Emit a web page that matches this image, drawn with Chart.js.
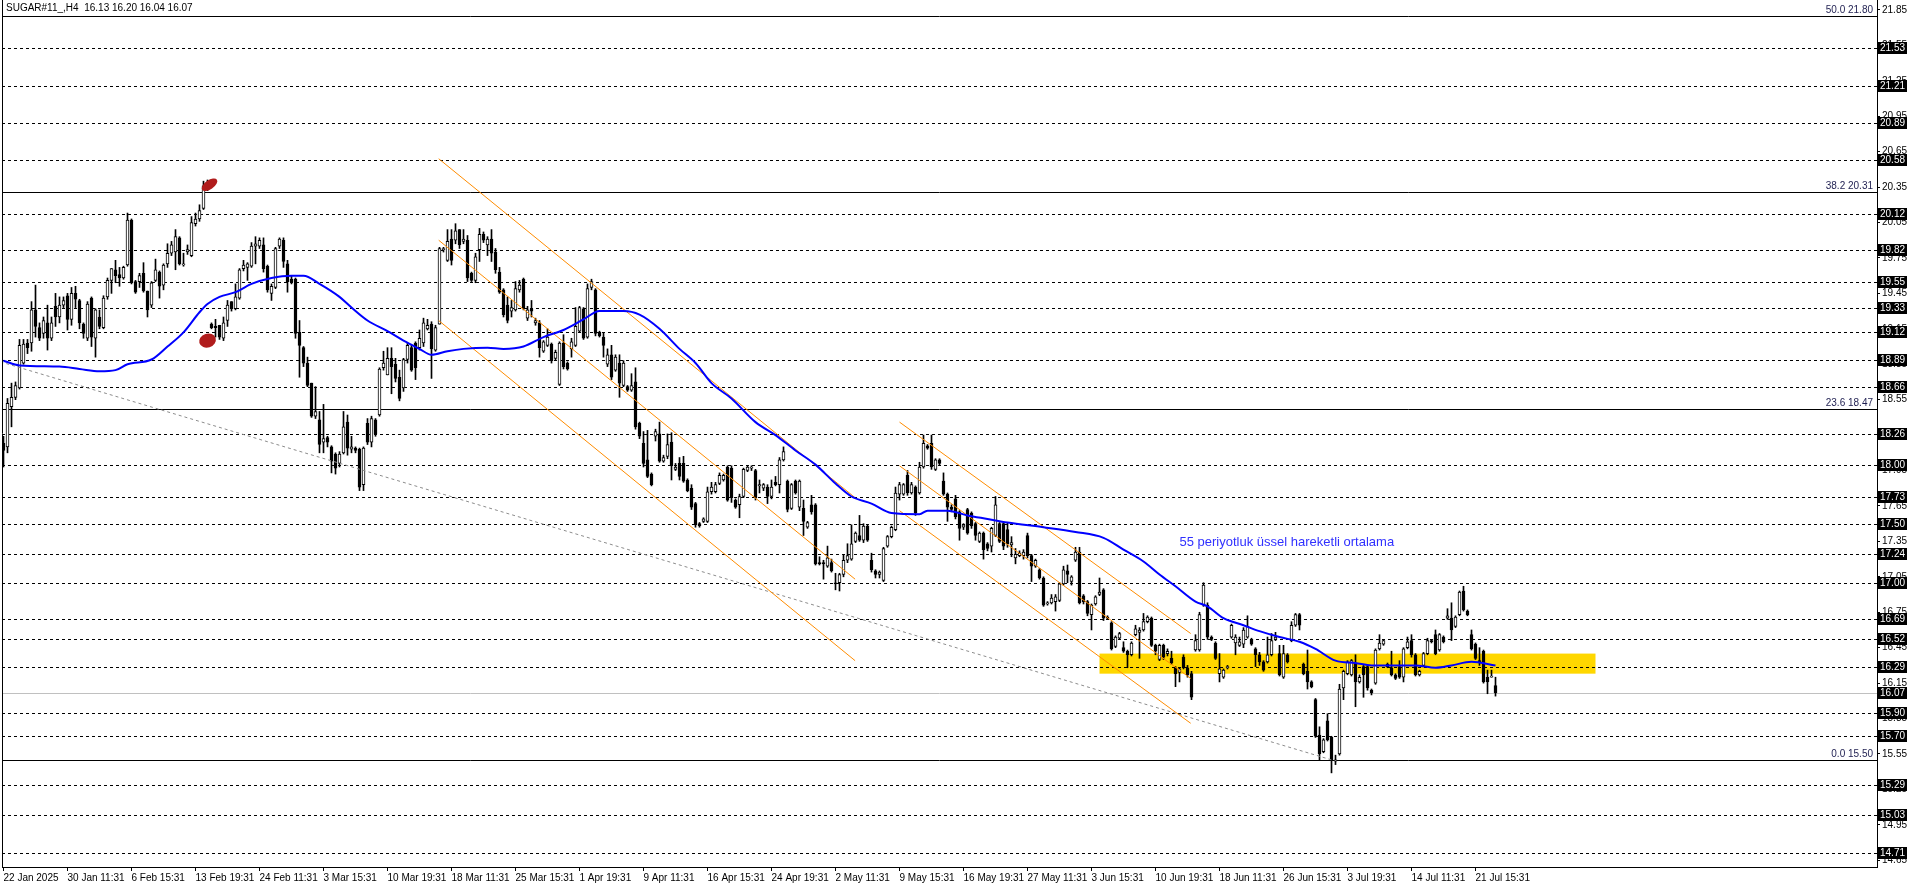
<!DOCTYPE html>
<html>
<head>
<meta charset="utf-8">
<script src="https://cdn.jsdelivr.net/npm/chart.js@4.4.1/dist/chart.umd.min.js"></script>
<style>
  html, body { margin: 0; padding: 0; background: #fff; overflow: hidden; }
  #wrap { position: relative; width: 1916px; height: 888px; }
</style>
</head>
<body>
<div id="wrap"><canvas id="chart" width="1916" height="888"></canvas></div>
<script>
// SUGAR#11 H4 candles (index 0 = 22 Jan 2025)
const title = 'SUGAR#11_,H4  16.13 16.20 16.04 16.07';

const opens = [
  18.18,18.15,18.49,18.57,18.65,18.86,19.03,19.03,19.31,19.16,
  19.11,19.20,19.07,19.34,19.25,19.35,19.43,19.23,19.45,19.39,
  19.19,19.07,19.41,19.07,19.25,19.16,19.42,19.56,19.65,19.61,
  19.58,19.69,20.07,19.55,19.55,19.62,19.47,19.35,19.56,19.63,
  19.52,19.70,19.79,19.80,19.92,19.69,19.80,19.77,20.04,20.08,
  20.17,20.39,19.19,19.17,19.18,19.07,19.22,19.38,19.32,19.41,
  19.66,19.67,19.68,19.85,19.85,19.86,19.68,19.45,19.50,19.85,
  19.90,19.70,19.57,19.57,19.12,18.99,18.86,18.69,18.41,18.38,
  18.19,18.23,18.15,18.09,18.01,18.10,18.36,18.13,18.14,18.13,
  17.83,18.35,18.19,18.38,18.42,18.82,18.76,18.90,18.85,18.74,
  18.65,18.89,18.99,19.03,18.99,19.03,19.15,19.19,18.97,19.19,
  19.82,19.73,19.91,19.90,19.99,19.89,19.90,19.62,19.56,19.82,
  19.95,19.86,19.91,19.80,19.63,19.48,19.35,19.30,19.31,19.48,
  19.57,19.24,19.32,19.20,19.20,18.96,19.01,19.02,18.90,18.68,
  19.03,18.86,18.98,19.01,19.13,19.32,19.08,19.50,19.48,19.12,
  19.08,18.85,18.93,18.80,18.86,18.67,18.66,18.63,18.70,18.35,
  18.18,18.04,17.92,18.24,18.26,18.03,18.07,18.19,17.96,18.01,
  18.01,17.87,17.80,17.67,17.50,17.52,17.52,17.77,17.77,17.84,
  17.87,17.98,17.97,17.70,17.66,17.73,17.95,17.97,17.95,17.82,
  17.80,17.81,17.73,17.85,17.83,18.04,17.86,17.63,17.86,17.64,
  17.63,17.47,17.66,17.66,17.17,17.17,17.14,17.17,17.00,17.00,
  17.07,17.19,17.20,17.35,17.40,17.36,17.48,17.19,17.10,17.07,
  17.02,17.31,17.39,17.45,17.75,17.75,17.91,17.76,17.81,17.76,
  17.98,18.16,18.18,17.96,18.04,17.86,17.75,17.64,17.71,17.60,
  17.47,17.62,17.59,17.50,17.35,17.42,17.33,17.31,17.40,17.50,
  17.50,17.45,17.32,17.21,17.23,17.23,17.40,17.23,17.14,17.11,
  17.04,16.82,16.83,16.84,16.85,16.99,17.10,17.01,17.19,17.26,
  16.89,16.84,16.73,16.82,16.90,16.94,16.71,16.66,16.46,16.53,
  16.45,16.42,16.39,16.56,16.58,16.60,16.67,16.70,16.47,16.35,
  16.47,16.40,16.36,16.28,16.24,16.37,16.28,16.23,16.43,16.43,
  16.81,16.81,16.54,16.49,16.23,16.20,16.28,16.54,16.49,16.47,
  16.48,16.54,16.52,16.44,16.39,16.33,16.33,16.39,16.52,16.40,
  16.20,16.39,16.51,16.64,16.73,16.31,16.25,16.16,16.01,15.71,
  15.57,15.83,15.69,15.49,15.55,16.11,16.23,16.22,16.32,16.16,
  16.29,16.29,16.09,16.15,16.44,16.48,16.29,16.28,16.22,16.29,
  16.20,16.45,16.51,16.39,16.22,16.30,16.40,16.51,16.56,16.43,
  16.54,16.70,16.70,16.63,16.73,16.93,16.76,16.56,16.48,16.34,
  16.42,16.20,16.20,16.13
];
const highs = [
  18.24,18.56,18.69,18.70,19.06,19.06,19.06,19.38,19.52,19.20,
  19.25,19.35,19.25,19.45,19.42,19.42,19.45,19.50,19.51,19.40,
  19.20,19.38,19.42,19.32,19.31,19.43,19.58,19.66,19.73,19.67,
  19.68,20.13,20.08,19.56,19.62,19.71,19.47,19.55,19.74,19.64,
  19.70,19.87,19.89,19.99,19.93,19.79,19.86,20.10,20.13,20.20,
  20.40,20.41,19.20,19.23,19.18,19.25,19.39,19.38,19.53,19.66,
  19.73,19.71,19.88,19.93,19.92,19.92,19.69,19.53,19.84,19.92,
  19.92,19.73,19.60,19.58,19.22,19.00,18.91,18.69,18.66,18.45,
  18.51,18.24,18.16,18.10,18.11,18.45,18.42,18.24,18.15,18.14,
  18.15,18.39,18.41,18.39,18.82,18.96,18.99,18.99,18.90,18.80,
  18.90,19.03,19.01,19.04,19.14,19.24,19.23,19.21,19.18,19.84,
  19.84,19.99,19.99,20.04,19.99,19.99,19.94,19.63,19.79,20.00,
  19.97,19.93,19.99,19.83,19.67,19.49,19.42,19.39,19.55,19.56,
  19.58,19.34,19.39,19.24,19.22,19.05,19.15,19.03,18.97,19.04,
  19.10,18.87,19.07,19.33,19.34,19.33,19.53,19.57,19.49,19.13,
  19.12,18.98,19.01,18.93,18.93,18.88,18.67,18.77,18.82,18.36,
  18.28,18.29,17.93,18.30,18.36,18.08,18.26,18.27,18.01,18.06,
  18.07,17.88,17.83,17.68,17.51,17.55,17.81,17.85,17.85,17.93,
  17.92,17.99,17.99,17.71,17.75,17.97,17.99,17.99,17.96,17.87,
  17.84,17.83,17.87,17.90,18.06,18.15,17.87,17.84,17.87,17.87,
  17.70,17.52,17.74,17.67,17.22,17.19,17.31,17.20,17.08,17.08,
  17.24,17.33,17.49,17.43,17.57,17.50,17.49,17.25,17.11,17.10,
  17.30,17.40,17.48,17.81,17.85,17.84,17.95,17.85,17.82,18.02,
  18.25,18.17,18.25,18.05,18.05,17.93,17.76,17.66,17.74,17.61,
  17.50,17.63,17.60,17.51,17.43,17.43,17.34,17.47,17.73,17.51,
  17.51,17.51,17.39,17.29,17.27,17.28,17.42,17.24,17.20,17.12,
  17.05,16.84,16.90,16.90,17.00,17.14,17.15,17.06,17.30,17.30,
  16.90,16.85,16.82,16.89,17.04,16.95,16.72,16.67,16.55,16.58,
  16.50,16.43,16.50,16.64,16.62,16.74,16.72,16.71,16.48,16.48,
  16.48,16.44,16.42,16.29,16.28,16.39,16.30,16.25,16.56,16.75,
  17.00,16.83,16.55,16.50,16.40,16.27,16.30,16.65,16.56,16.54,
  16.62,16.72,16.53,16.45,16.41,16.34,16.54,16.57,16.58,16.47,
  16.47,16.40,16.67,16.74,16.74,16.32,16.43,16.17,16.02,15.78,
  15.68,15.89,15.70,15.54,16.14,16.26,16.34,16.35,16.39,16.22,
  16.30,16.30,16.10,16.44,16.56,16.52,16.32,16.42,16.23,16.34,
  16.45,16.54,16.56,16.40,16.26,16.41,16.53,16.52,16.60,16.57,
  16.55,16.78,16.83,16.72,16.93,16.97,16.77,16.60,16.49,16.45,
  16.43,16.26,16.26,16.20
];
const lows = [
  17.98,18.10,18.32,18.55,18.64,18.85,18.94,18.96,19.08,19.05,
  19.07,18.97,19.05,19.17,19.20,19.33,19.14,19.18,19.33,19.15,
  19.07,19.05,19.00,18.91,19.15,19.15,19.40,19.45,19.54,19.51,
  19.57,19.68,19.53,19.45,19.50,19.46,19.25,19.33,19.55,19.41,
  19.48,19.67,19.77,19.65,19.69,19.68,19.78,19.76,20.02,20.06,
  20.16,20.32,19.15,19.08,19.06,19.05,19.17,19.30,19.31,19.40,
  19.64,19.56,19.67,19.70,19.83,19.63,19.46,19.39,19.49,19.83,
  19.67,19.46,19.53,19.07,18.74,18.83,18.66,18.40,18.39,18.10,
  18.10,18.15,17.93,17.92,17.98,18.09,18.08,18.10,18.10,17.78,
  17.78,18.17,18.15,18.24,18.41,18.80,18.76,18.60,18.70,18.54,
  18.62,18.86,18.79,18.72,18.97,19.00,19.14,18.73,18.96,19.19,
  19.80,19.72,19.69,19.87,19.83,19.87,19.55,19.55,19.54,19.72,
  19.88,19.77,19.72,19.62,19.45,19.25,19.20,19.25,19.30,19.46,
  19.31,19.22,19.25,19.18,18.91,18.95,19.00,18.86,18.88,18.67,
  18.81,18.80,18.91,19.00,19.12,19.06,19.07,19.48,19.09,19.08,
  18.91,18.83,18.72,18.79,18.57,18.66,18.62,18.62,18.30,18.22,
  17.98,17.89,17.82,18.20,18.02,18.02,18.05,17.87,17.95,17.87,
  17.85,17.77,17.62,17.47,17.47,17.51,17.51,17.75,17.76,17.83,
  17.86,17.69,17.68,17.63,17.55,17.72,17.94,17.95,17.70,17.76,
  17.78,17.67,17.71,17.82,17.76,18.03,17.60,17.62,17.75,17.61,
  17.40,17.46,17.58,17.15,17.15,17.03,17.13,17.09,16.94,16.93,
  17.05,17.17,17.19,17.34,17.35,17.34,17.35,17.09,17.04,17.04,
  17.01,17.30,17.38,17.44,17.70,17.74,17.74,17.75,17.57,17.75,
  17.97,18.13,17.96,17.95,18.00,17.74,17.52,17.60,17.54,17.36,
  17.45,17.41,17.46,17.36,17.34,17.20,17.27,17.26,17.39,17.34,
  17.28,17.30,17.22,17.16,17.22,17.20,17.21,17.01,17.13,17.03,
  16.80,16.81,16.82,16.76,16.84,16.98,17.00,16.98,17.18,16.82,
  16.82,16.72,16.60,16.81,16.89,16.68,16.69,16.43,16.45,16.52,
  16.41,16.28,16.38,16.55,16.36,16.59,16.66,16.46,16.39,16.34,
  16.35,16.38,16.31,16.12,16.16,16.27,16.20,16.01,16.42,16.42,
  16.80,16.52,16.51,16.35,16.16,16.19,16.27,16.53,16.39,16.46,
  16.45,16.53,16.47,16.29,16.30,16.25,16.32,16.38,16.51,16.21,
  16.19,16.32,16.50,16.63,16.60,16.22,16.10,16.11,15.69,15.50,
  15.56,15.66,15.39,15.46,15.54,16.01,16.22,16.21,15.95,16.15,
  16.03,16.09,16.05,16.14,16.43,16.47,16.28,16.21,16.18,16.19,
  16.16,16.44,16.37,16.21,16.21,16.29,16.39,16.49,16.39,16.42,
  16.49,16.69,16.51,16.62,16.72,16.76,16.72,16.43,16.35,16.30,
  16.15,16.06,16.20,16.04
];
const closes = [
  18.12,18.52,18.57,18.67,19.01,19.02,18.99,19.31,19.17,19.07,
  19.22,19.07,19.20,19.25,19.35,19.39,19.23,19.45,19.40,19.20,
  19.11,19.36,19.08,19.31,19.17,19.41,19.56,19.66,19.60,19.58,
  19.67,20.07,19.54,19.46,19.60,19.47,19.31,19.54,19.65,19.51,
  19.69,19.79,19.86,19.93,19.70,19.70,19.82,20.05,20.08,20.15,
  20.36,20.33,19.16,19.16,19.08,19.20,19.35,19.32,19.42,19.65,
  19.69,19.70,19.85,19.87,19.90,19.66,19.48,19.51,19.83,19.91,
  19.72,19.55,19.55,19.11,19.01,18.86,18.67,18.41,18.45,18.17,
  18.22,18.19,18.03,17.97,18.09,18.32,18.14,18.15,18.12,17.81,
  18.14,18.19,18.39,18.26,18.81,18.86,18.90,18.83,18.73,18.56,
  18.89,19.01,18.80,18.82,19.07,19.20,19.18,18.98,19.16,19.83,
  19.83,19.89,19.73,19.98,19.86,19.91,19.58,19.56,19.76,19.95,
  19.90,19.91,19.79,19.65,19.46,19.27,19.22,19.33,19.49,19.52,
  19.32,19.31,19.30,19.22,18.99,19.04,19.08,18.88,18.95,19.03,
  18.83,18.81,19.04,19.17,19.33,19.07,19.49,19.55,19.11,19.09,
  19.01,18.93,18.74,18.91,18.69,18.86,18.63,18.67,18.32,18.24,
  18.01,17.90,17.83,18.28,18.03,18.06,18.17,17.99,17.98,17.90,
  17.86,17.78,17.64,17.49,17.48,17.54,17.77,17.81,17.83,17.91,
  17.91,17.70,17.72,17.64,17.73,17.96,17.98,17.98,17.72,17.83,
  17.83,17.73,17.81,17.83,18.04,18.11,17.62,17.83,17.76,17.86,
  17.52,17.51,17.60,17.16,17.16,17.16,17.21,17.10,16.99,17.07,
  17.19,17.23,17.33,17.42,17.36,17.48,17.36,17.11,17.07,17.09,
  17.29,17.39,17.47,17.76,17.83,17.83,17.76,17.83,17.59,17.98,
  18.18,18.14,17.98,18.04,18.01,17.75,17.64,17.62,17.56,17.46,
  17.49,17.42,17.48,17.40,17.42,17.28,17.29,17.46,17.66,17.35,
  17.31,17.33,17.34,17.24,17.25,17.26,17.23,17.14,17.19,17.04,
  16.81,16.83,16.87,16.88,16.99,17.11,17.07,17.05,17.26,16.83,
  16.84,16.74,16.81,16.88,16.92,16.70,16.70,16.44,16.54,16.57,
  16.42,16.39,16.49,16.61,16.60,16.67,16.71,16.47,16.42,16.47,
  16.37,16.42,16.32,16.23,16.27,16.28,16.22,16.03,16.51,16.73,
  16.98,16.54,16.52,16.36,16.27,16.26,16.29,16.64,16.54,16.50,
  16.60,16.63,16.48,16.39,16.33,16.26,16.39,16.51,16.54,16.22,
  16.40,16.33,16.64,16.73,16.64,16.23,16.16,16.12,15.70,15.55,
  15.67,15.67,15.50,15.50,16.10,16.25,16.33,16.34,16.16,16.20,
  16.22,16.11,16.07,16.43,16.49,16.51,16.31,16.22,16.19,16.20,
  16.44,16.50,16.39,16.22,16.25,16.40,16.51,16.50,16.40,16.56,
  16.50,16.72,16.60,16.71,16.92,16.77,16.73,16.44,16.36,16.32,
  16.16,16.16,16.21,16.07
];

// 55 EMA as drawn (bar index, price)
const emaIdx = [0,4,14,19,24,28,31,37,41,45,49,51,54,58,62,67,72,75,79,84,87,91,96,100,104,107,111,115,121,125,
  130,135,140,145,149,155,159,164,169,173,177,182,188,193,198,203,208,212,217,222,229,231,236,241,246,251,260,268,275,280,
  285,289,293,298,301,305,310,314,319,324,328,333,338,342,348,353,358,362,367,373];
const emaVal = [18.88,18.84,18.83,18.81,18.79,18.80,18.85,18.89,19.00,19.12,19.29,19.36,19.42,19.46,19.53,19.58,19.60,19.60,19.53,19.42,19.33,19.22,19.13,19.05,18.98,18.93,18.96,18.98,18.99,18.98,
  19.00,19.08,19.14,19.23,19.30,19.30,19.27,19.15,18.98,18.86,18.69,18.56,18.36,18.25,18.12,18.00,17.84,17.73,17.67,17.59,17.58,17.61,17.61,17.57,17.54,17.51,17.47,17.43,17.38,17.28,
  17.18,17.07,16.97,16.84,16.80,16.70,16.64,16.59,16.54,16.50,16.44,16.34,16.32,16.30,16.30,16.30,16.28,16.30,16.33,16.30];

// time axis
const xTickIdx = [0,16,32,48,64,80,96,112,128,144,160,176,192,208,224,240,256,272,288,304,320,336,352,368];
const xLabels = ['22 Jan 2025','30 Jan 11:31','6 Feb 15:31','13 Feb 19:31','24 Feb 11:31','3 Mar 15:31',
  '10 Mar 19:31','18 Mar 11:31','25 Mar 15:31','1 Apr 19:31','9 Apr 11:31','16 Apr 15:31','24 Apr 19:31',
  '2 May 11:31','9 May 15:31','16 May 19:31','27 May 11:31','3 Jun 15:31','10 Jun 19:31','18 Jun 11:31',
  '26 Jun 15:31','3 Jul 19:31','14 Jul 11:31','21 Jul 15:31'];

// price axis
const yTicks = [21.85,21.55,21.25,20.95,20.65,20.35,20.05,19.75,19.45,19.15,18.85,18.55,18.25,17.95,
  17.65,17.35,17.05,16.75,16.45,16.15,15.85,15.55,15.25,14.95,14.65];
const yMin = 14.593, yMax = 21.934;

// drawn objects
const hLevels = [21.53,21.21,20.89,20.58,20.12,19.82,19.55,19.33,19.12,18.89,18.66,18.26,18.00,17.73,
  17.50,17.24,17.00,16.69,16.52,16.29,15.90,15.70,15.29,15.03,14.71];
const fibLevels = [21.80,20.31,18.47,15.50];
const fibNames = ['50.0','38.2','23.6','0.0'];
const bidPrice = 16.07;

const ch1Idx = [108.8, 212.9];
const ch1Upper = [20.59, 17.72];
const ch1Mid = [19.90, 17.03];
const ch1Lower = [19.22, 16.34];
const ch2Idx = [224.0, 296.8];
const ch2Upper = [18.36, 16.57];
const ch2Mid = [17.99, 16.19];
const ch2Lower = [17.61, 15.81];
const trendIdx = [-0.75, 332];
const trendVal = [18.87, 15.50];

const zoneIdx = [274, 398];
const zoneVal = [16.23, 16.40];
const markIdx = [51.5, 51];
const markVal = [20.37, 19.05];
const noteText = '55 periyotluk üssel hareketli ortalama';
const noteIdx = 294, noteVal = 17.34;

const FONT = "'Liberation Sans', sans-serif";
const idx = opens.map((_, i) => i);
const pts = (xs, ys) => xs.map((v, k) => ({ x: v, y: ys[k] }));
const seg = (xs, ys, color, dash) => ({
  type: 'line', data: pts(xs, ys), borderColor: color, borderWidth: 1,
  borderDash: dash || [], pointRadius: 0, tension: 0, order: 1
});

const decor = {
  id: 'decor',
  beforeDatasetsDraw(chart) {
    const { ctx, chartArea: a, scales: { x, y } } = chart;
    ctx.save();
    ctx.beginPath();
    ctx.rect(a.left, a.top, a.right - a.left, a.bottom - a.top);
    ctx.clip();
    // yellow zone
    const zx0 = x.getPixelForValue(zoneIdx[0]), zx1 = x.getPixelForValue(zoneIdx[1]);
    const zy0 = y.getPixelForValue(zoneVal[1]), zy1 = y.getPixelForValue(zoneVal[0]);
    ctx.fillStyle = '#ffd700';
    ctx.fillRect(zx0, zy0, zx1 - zx0, zy1 - zy0);
    // bid line
    ctx.strokeStyle = '#c0c0c0';
    ctx.lineWidth = 1;
    let py = Math.round(y.getPixelForValue(bidPrice)) + 0.5;
    ctx.beginPath(); ctx.moveTo(a.left, py); ctx.lineTo(a.right, py); ctx.stroke();
    // dashed levels
    ctx.strokeStyle = '#000';
    ctx.setLineDash([3, 3]);
    hLevels.forEach(v => {
      const p = Math.round(y.getPixelForValue(v)) + 0.5;
      ctx.beginPath(); ctx.moveTo(a.left, p); ctx.lineTo(a.right, p); ctx.stroke();
    });
    ctx.setLineDash([]);
    // fibo levels
    fibLevels.forEach(v => {
      const p = Math.round(y.getPixelForValue(v)) + 0.5;
      ctx.beginPath(); ctx.moveTo(a.left, p); ctx.lineTo(a.right, p); ctx.stroke();
    });
    ctx.restore();
  },
  afterDatasetsDraw(chart) {
    const { ctx, scales: { x, y } } = chart;
    ctx.save();
    ctx.fillStyle = '#b01c1c';
    ctx.beginPath();
    ctx.ellipse(x.getPixelForValue(markIdx[0]), y.getPixelForValue(markVal[0]), 9, 4.5, -0.6, 0, Math.PI * 2);
    ctx.fill();
    ctx.beginPath();
    ctx.ellipse(x.getPixelForValue(markIdx[1]), y.getPixelForValue(markVal[1]), 8.5, 7, -0.3, 0, Math.PI * 2);
    ctx.fill();
    ctx.fillStyle = '#3030ff';
    ctx.font = '13px ' + FONT;
    ctx.textBaseline = 'middle';
    ctx.fillText(noteText, x.getPixelForValue(noteIdx), y.getPixelForValue(noteVal));
    ctx.restore();
  },
  afterDraw(chart) {
    const { ctx, chartArea: a, scales: { y } } = chart;
    ctx.save();
    ctx.strokeStyle = '#000';
    ctx.lineWidth = 1;
    ctx.beginPath(); ctx.moveTo(a.left + 0.5, a.top); ctx.lineTo(a.left + 0.5, a.bottom); ctx.stroke();
    // fibo labels
    ctx.font = '10px ' + FONT;
    ctx.fillStyle = '#1e1e50';
    ctx.textAlign = 'right';
    ctx.textBaseline = 'bottom';
    fibLevels.forEach((v, k) => {
      ctx.fillText(fibNames[k] + ' ' + v.toFixed(2), a.right - 4, Math.round(y.getPixelForValue(v)) - 1);
    });
    // price boxes on the axis
    ctx.textAlign = 'left';
    ctx.textBaseline = 'middle';
    hLevels.concat([bidPrice]).forEach(v => {
      const p = Math.round(y.getPixelForValue(v));
      ctx.fillStyle = '#000';
      ctx.fillRect(a.right + 1, p - 6, 29, 12);
      ctx.fillStyle = '#fff';
      ctx.fillText(v.toFixed(2), a.right + 3, p + 0.5);
    });
    // title
    ctx.fillStyle = '#000';
    ctx.textBaseline = 'top';
    ctx.fillText(title, a.left + 4, 3);
    ctx.restore();
  }
};

new Chart(document.getElementById('chart').getContext('2d'), {
  type: 'bar',
  data: {
    datasets: [
      {
        type: 'line', data: pts(emaIdx, emaVal), borderColor: '#0000ff', borderWidth: 2,
        pointRadius: 0, cubicInterpolationMode: 'monotone', order: 0
      },
      seg(ch1Idx, ch1Upper, '#ff8c00'),
      seg(ch1Idx, ch1Mid, '#ff8c00'),
      seg(ch1Idx, ch1Lower, '#ff8c00'),
      seg(ch2Idx, ch2Upper, '#ff8c00'),
      seg(ch2Idx, ch2Mid, '#ff8c00'),
      seg(ch2Idx, ch2Lower, '#ff8c00'),
      seg(trendIdx, trendVal, '#8c8c8c', [3, 3]),
      {
        label: 'body', data: idx.map(i => ({ x: i, y: [opens[i], closes[i]] })),
        barThickness: 3, minBarLength: 1, grouped: false, borderSkipped: false, borderWidth: 1,
        borderColor: '#000',
        backgroundColor: c => closes[c.dataIndex] >= opens[c.dataIndex] ? '#fff' : '#000',
        order: 2
      },
      {
        label: 'wick', data: idx.map(i => ({ x: i, y: [lows[i], highs[i]] })),
        barThickness: 1, grouped: false, backgroundColor: '#000', borderWidth: 0, order: 3
      }
    ]
  },
  options: {
    responsive: false,
    devicePixelRatio: 1,
    animation: false,
    events: [],
    layout: { padding: { left: 2, top: 0, right: 0, bottom: 0 } },
    plugins: { legend: { display: false }, tooltip: { enabled: false } },
    scales: {
      x: {
        type: 'linear', min: -0.375, max: 468.375, bounds: 'data', offset: false,
        afterBuildTicks: s => { s.ticks = xTickIdx.map(v => ({ value: v })); },
        afterFit: s => { s.height = 21; s.paddingLeft = 0; s.paddingRight = 0; },
        ticks: {
          callback: (v, i) => xLabels[i], align: 'start', maxRotation: 0, minRotation: 0,
          autoSkip: false, padding: 1, color: '#000', font: { family: FONT, size: 10 }
        },
        grid: { drawOnChartArea: false, offset: false, tickLength: 4, color: '#000' },
        border: { color: '#000' }
      },
      y: {
        type: 'linear', position: 'right', min: yMin, max: yMax, bounds: 'data',
        afterBuildTicks: s => { s.ticks = yTicks.map(v => ({ value: v })); },
        afterFit: s => { s.width = 39; s.paddingTop = 0; s.paddingBottom = 0; },
        ticks: {
          callback: v => v.toFixed(2), autoSkip: false, padding: 2, color: '#000',
          font: { family: FONT, size: 10 }
        },
        grid: { drawOnChartArea: false, tickLength: 3, color: '#000' },
        border: { color: '#000' }
      }
    }
  },
  plugins: [decor]
});
</script>
</body>
</html>
